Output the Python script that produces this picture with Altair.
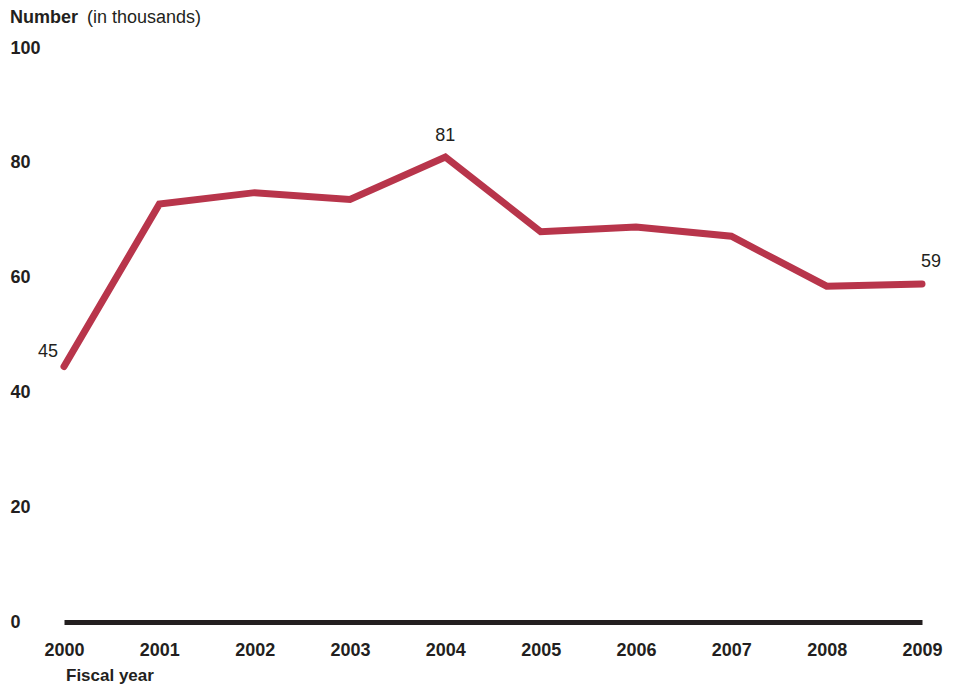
import altair as alt
import pandas as pd

years = [2000, 2001, 2002, 2003, 2004, 2005, 2006, 2007, 2008, 2009]
values = [44.5, 72.8, 74.8, 73.6, 81.0, 68.0, 68.8, 67.2, 58.5, 58.9]
label_years = [2000, 2004, 2009]
label_text = ["45", "81", "59"]
label_dx = [-16, 0, 9]
label_dy = [-15, -21, -22]

FONT = "Liberation Sans"
INK = "#231f20"
RED = "#b8354b"
FS = 18

df = pd.DataFrame({"year": years, "value": values})

x = alt.X("year:Q", scale=alt.Scale(domain=[2000, 2009], nice=False, zero=False),
          axis=alt.Axis(values=years, format="d", title=None, grid=False, ticks=False,
                        domainWidth=5, domainColor=INK, labelFont=FONT, labelFontSize=FS,
                        labelFontWeight="bold", labelColor=INK, labelPadding=19,
                        labelFlush=False))
y = alt.Y("value:Q", scale=alt.Scale(domain=[0, 100], nice=False),
          axis=alt.Axis(values=[0, 20, 40, 60, 80, 100], title=None, grid=False, ticks=False,
                        domain=False, labelFont=FONT, labelFontSize=FS, labelFontWeight="bold",
                        labelColor=INK, labelAlign="left", labelPadding=54, labelBaseline="middle"))

line = alt.Chart(df).mark_line(color=RED, strokeWidth=7, strokeCap="round",
                               strokeJoin="miter").encode(x=x, y=y)

layers = [line]
for yr, t, dx, dy in zip(label_years, label_text, label_dx, label_dy):
    v = values[years.index(yr)]
    ldf = pd.DataFrame({"year": [yr], "value": [v], "t": [t]})
    layers.append(alt.Chart(ldf).mark_text(font=FONT, fontSize=FS, color=INK, dx=dx, dy=dy,
                                           baseline="middle", align="center")
                  .encode(x=alt.X("year:Q"), y=alt.Y("value:Q"), text="t:N"))

title1 = alt.Chart(pd.DataFrame({"t": ["Number"]})).mark_text(
    font=FONT, fontSize=FS, fontWeight="bold", color=INK, align="left", baseline="middle"
).encode(x=alt.value(-54), y=alt.value(-30), text="t:N")
title2 = alt.Chart(pd.DataFrame({"t": ["(in thousands)"]})).mark_text(
    font=FONT, fontSize=FS, color=INK, align="left", baseline="middle"
).encode(x=alt.value(23), y=alt.value(-30), text="t:N")
xtitle = alt.Chart(pd.DataFrame({"t": ["Fiscal year"]})).mark_text(
    font=FONT, fontSize=17, fontWeight="bold", color=INK, align="left", baseline="alphabetic"
).encode(x=alt.value(2), y=alt.value(633), text="t:N")

chart = alt.layer(*layers, title1, title2, xtitle).properties(
    width=858, height=574,
    background="white",
    autosize=alt.AutoSizeParams(type="none"),
    padding={"left": 56, "top": 40, "right": 31, "bottom": 64},
).configure_view(strokeWidth=0, stroke=None)

chart.save("out.html", embed_options={"renderer": "svg", "actions": False})
